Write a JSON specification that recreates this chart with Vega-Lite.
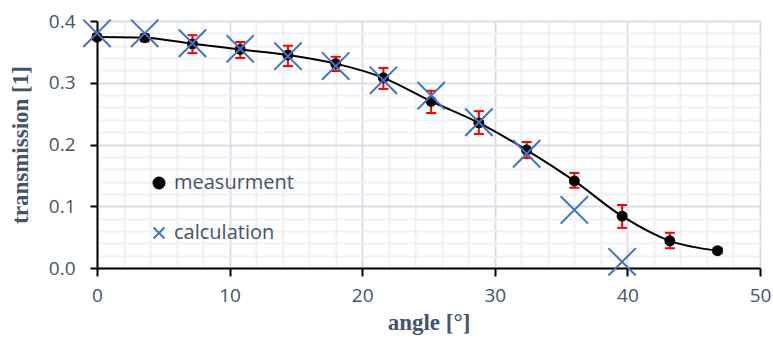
{
  "$schema": "https://vega.github.io/schema/vega-lite/v6.json",
  "width": 663,
  "height": 247,
  "autosize": {"type": "none"},
  "padding": {"left": 97, "top": 21, "right": 13, "bottom": 75},
  "background": "white",
  "config": {
    "view": {"stroke": null},
    "axis": {
      "labelFont": "Open Sans",
      "labelFontSize": 19,
      "labelColor": "#44546A",
      "labelFlush": false,
      "titleFont": "Liberation Serif",
      "titleFontWeight": "bold",
      "titleFontSize": 23,
      "titleColor": "#44546A",
      "domainColor": "black",
      "domainWidth": 2,
      "tickColor": "black",
      "tickWidth": 2
    },
    "legend": {
      "labelFont": "Open Sans",
      "labelFontSize": 20,
      "labelColor": "#44546A",
      "symbolStrokeWidth": 2,
      "symbolSize": 120
    }
  },
  "data": {
    "values": [
      {"angle": 0, "value": 0.374, "lo": 0.370, "hi": 0.378, "series": "measurment"},
      {"angle": 3.6, "value": 0.373, "lo": 0.367, "hi": 0.378, "series": "measurment"},
      {"angle": 7.2, "value": 0.363, "lo": 0.348, "hi": 0.377, "series": "measurment"},
      {"angle": 10.8, "value": 0.354, "lo": 0.340, "hi": 0.366, "series": "measurment"},
      {"angle": 14.4, "value": 0.345, "lo": 0.327, "hi": 0.360, "series": "measurment"},
      {"angle": 18, "value": 0.331, "lo": 0.319, "hi": 0.342, "series": "measurment"},
      {"angle": 21.6, "value": 0.308, "lo": 0.290, "hi": 0.324, "series": "measurment"},
      {"angle": 25.2, "value": 0.270, "lo": 0.251, "hi": 0.287, "series": "measurment"},
      {"angle": 28.8, "value": 0.235, "lo": 0.217, "hi": 0.254, "series": "measurment"},
      {"angle": 32.4, "value": 0.191, "lo": 0.178, "hi": 0.204, "series": "measurment"},
      {"angle": 36, "value": 0.141, "lo": 0.130, "hi": 0.154, "series": "measurment"},
      {"angle": 39.6, "value": 0.084, "lo": 0.065, "hi": 0.102, "series": "measurment"},
      {"angle": 43.2, "value": 0.044, "lo": 0.032, "hi": 0.057, "series": "measurment"},
      {"angle": 46.8, "value": 0.028, "lo": 0.024, "hi": 0.032, "series": "measurment"},
      {"angle": 0, "value": 0.380, "series": "calculation"},
      {"angle": 3.6, "value": 0.380, "series": "calculation"},
      {"angle": 7.2, "value": 0.364, "series": "calculation"},
      {"angle": 10.8, "value": 0.355, "series": "calculation"},
      {"angle": 14.4, "value": 0.343, "series": "calculation"},
      {"angle": 18, "value": 0.327, "series": "calculation"},
      {"angle": 21.6, "value": 0.304, "series": "calculation"},
      {"angle": 25.2, "value": 0.279, "series": "calculation"},
      {"angle": 28.8, "value": 0.236, "series": "calculation"},
      {"angle": 32.4, "value": 0.185, "series": "calculation"},
      {"angle": 36, "value": 0.094, "series": "calculation"},
      {"angle": 39.6, "value": 0.010, "series": "calculation"}
    ]
  },
  "encoding": {
    "x": {
      "field": "angle",
      "type": "quantitative",
      "scale": {"domain": [0, 50], "nice": false},
      "axis": {
        "title": "angle [°]",
        "values": [0, 2, 4, 6, 8, 10, 12, 14, 16, 18, 20, 22, 24, 26, 28, 30, 32, 34, 36, 38, 40, 42, 44, 46, 48, 50],
        "labelExpr": "datum.value % 10 === 0 ? datum.label : ''",
        "tickSize": {"condition": {"test": "datum.value % 10 === 0", "value": 8}, "value": 0},
        "gridColor": {"condition": {"test": "datum.value % 10 === 0", "value": "#D9DEE7"}, "value": "#EEF1F5"},
        "gridWidth": 2,
        "labelPadding": 10,
        "titlePadding": 6
      }
    },
    "y": {
      "field": "value",
      "type": "quantitative",
      "scale": {"domain": [0, 0.4], "nice": false},
      "axis": {
        "title": "transmission [1]",
        "values": [0, 0.02, 0.04, 0.06, 0.08, 0.1, 0.12, 0.14, 0.16, 0.18, 0.2, 0.22, 0.24, 0.26, 0.28, 0.3, 0.32, 0.34, 0.36, 0.38, 0.4],
        "format": ".1f",
        "labelExpr": "abs(datum.value * 10 - round(datum.value * 10)) < 1e-6 ? datum.label : ''",
        "tickSize": {"condition": {"test": "abs(datum.value * 10 - round(datum.value * 10)) < 1e-6", "value": 7}, "value": 0},
        "gridColor": {"condition": {"test": "abs(datum.value * 10 - round(datum.value * 10)) < 1e-6", "value": "#D9DEE7"}, "value": "#EEF1F5"},
        "gridWidth": 2,
        "labelPadding": 15,
        "titlePadding": 16
      }
    }
  },
  "layer": [
    {
      "transform": [{"filter": "datum.series === 'measurment'"}],
      "mark": {"type": "rule", "color": "#FF0000", "strokeWidth": 2},
      "encoding": {"y": {"field": "lo", "type": "quantitative"}, "y2": {"field": "hi"}}
    },
    {
      "transform": [{"filter": "datum.series === 'measurment'"}],
      "mark": {"type": "tick", "orient": "horizontal", "color": "#FF0000", "thickness": 2, "size": 10, "opacity": 1},
      "encoding": {"y": {"field": "lo", "type": "quantitative"}}
    },
    {
      "transform": [{"filter": "datum.series === 'measurment'"}],
      "mark": {"type": "tick", "orient": "horizontal", "color": "#FF0000", "thickness": 2, "size": 10, "opacity": 1},
      "encoding": {"y": {"field": "hi", "type": "quantitative"}}
    },
    {
      "transform": [{"filter": "datum.series === 'measurment'"}],
      "mark": {"type": "line", "color": "black", "strokeWidth": 2, "interpolate": "monotone"},
      "encoding": {}
    },
    {
      "mark": {"type": "point", "opacity": 1, "strokeWidth": 2},
      "encoding": {
        "shape": {
          "field": "series", "type": "nominal",
          "scale": {"domain": ["measurment", "calculation"], "range": ["circle", "M-1,-1L1,1M-1,1L1,-1"]},
          "legend": {"title": null, "orient": "none", "legendX": 52, "legendY": 152, "rowPadding": 30, "labelOffset": 5}
        },
        "fill": {
          "field": "series", "type": "nominal",
          "scale": {"domain": ["measurment", "calculation"], "range": ["black", "transparent"]},
          "legend": {"title": null, "orient": "none", "legendX": 52, "legendY": 152, "rowPadding": 30, "labelOffset": 5}
        },
        "stroke": {
          "field": "series", "type": "nominal",
          "scale": {"domain": ["measurment", "calculation"], "range": ["black", "#4472C4"]},
          "legend": {"title": null, "orient": "none", "legendX": 52, "legendY": 152, "rowPadding": 30, "labelOffset": 5}
        },
        "size": {
          "condition": {"test": "datum.series === 'calculation'", "value": 750},
          "value": 80
        }
      }
    }
  ]
}
